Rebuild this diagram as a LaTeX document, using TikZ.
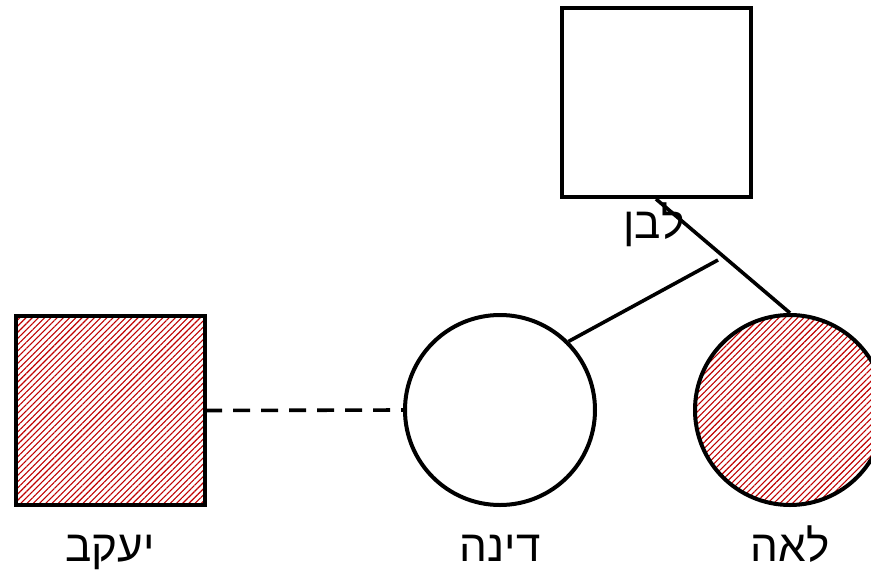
\documentclass[tikz,border=0pt]{standalone}
\usepackage{fontspec}
\setmainfont{Liberation Sans}
\TeXXeTstate=1
\usetikzlibrary{patterns.meta,calc}
\definecolor{hatchred}{RGB}{192,0,0}
\tikzset{
  person/.style={draw=black, line width=4pt, fill=white, inner sep=0pt},
  male/.style={person, rectangle, minimum size=189pt},
  female/.style={person, circle, minimum size=190pt},
  affected/.style={pattern={Lines[angle=45,distance=4.4pt,line width=1.1pt]}, pattern color=hatchred},
  link/.style={line width=3.6pt, black},
  lbl/.style={font=\fontsize{44pt}{48pt}\selectfont, anchor=base, inner sep=0pt}
}
\begin{document}
\begin{tikzpicture}[x=1pt,y=-1pt]
\clip (0,0) rectangle (871,574);
\fill[white] (0,0) rectangle (871,574);
\node[male] (laban) at (656,102.5) {};
\node[male, affected] (yaakov) at (110,410.5) {};
\node[female] (dina) at (500,410) {};
\node[female, affected] (leah) at (790,410) {};
\coordinate (mid) at (718,260);
\draw[link] (laban.south) -- (leah.north);
\draw[link] (dina.45) -- (mid);
\draw[link, dash pattern=on 17pt off 11pt] (yaakov.east) -- (dina.west);
\node[lbl] (labanl) at (654,238) {\beginR לבן\endR};
\node[lbl] (yaakovl) at (110,561) {\beginR יעקב\endR};
\node[lbl] (dinal) at (500,561) {\beginR דינה\endR};
\node[lbl] (leahl) at (790,561) {\beginR לאה\endR};
\end{tikzpicture}
\end{document}
